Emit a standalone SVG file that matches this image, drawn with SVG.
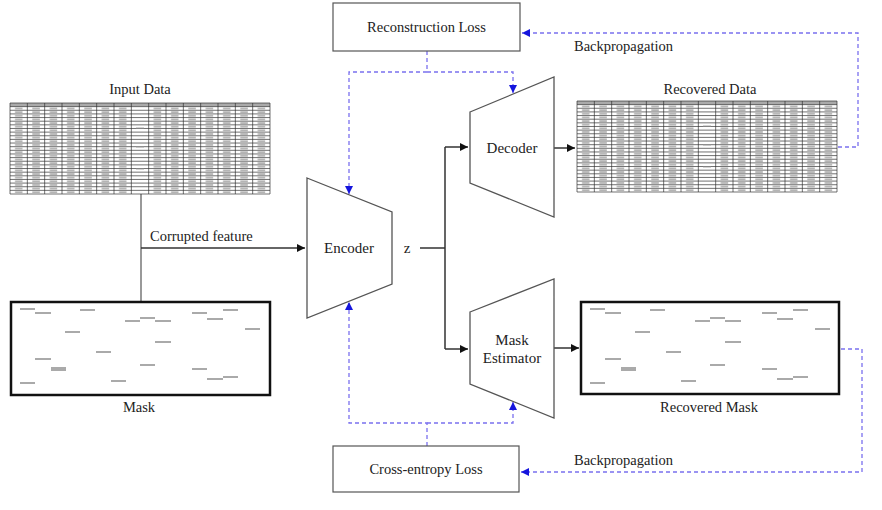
<svg xmlns="http://www.w3.org/2000/svg" width="882" height="510" viewBox="0 0 882 510">
<style>
text{font-family:"Liberation Serif","Times New Roman",serif;fill:#222;}
.lbl{font-size:14.5px;}
.big{font-size:15px;}
.box{fill:#fff;stroke:#555;stroke-width:1.2;}
.trap{fill:#fff;stroke:#555;stroke-width:1.3;}
.mbox{fill:#fff;stroke:#111;stroke-width:2.5;}
.solid{fill:none;stroke:#333;stroke-width:1.5;}
.gline{fill:none;stroke:#777;stroke-width:1.5;}
.dash{fill:none;stroke:#7a70ee;stroke-width:1.3;stroke-dasharray:4 3;}
.md{stroke:#aaa;stroke-width:2;}
.tg{stroke:#333;stroke-width:0.7;fill:none;}
</style>
<defs>
<marker id="ab" markerWidth="10" markerHeight="10" refX="9" refY="5" orient="auto" markerUnits="userSpaceOnUse">
<path d="M1,1 L9,5 L1,9 Z" fill="#111"/>
</marker>
<marker id="abl" markerWidth="10" markerHeight="10" refX="9" refY="5" orient="auto" markerUnits="userSpaceOnUse">
<path d="M1,1 L9,5 L1,9 Z" fill="#1515dd"/>
</marker>
<pattern id="cell" patternUnits="userSpaceOnUse" x="0" y="0" width="17.333" height="3.64">
<rect x="5" y="1.3" width="7.5" height="1.1" fill="#888"/>
</pattern>
<g id="table">
<rect x="0" y="0" width="260" height="91" fill="#fff"/>
<rect x="0" y="3.64" width="260" height="87.36" fill="url(#cell)"/>
<rect x="0" y="0" width="260" height="3.64" fill="#aaa"/>
<rect x="121.5" y="3.7" width="16.5" height="87" fill="#fff"/>
<path class="tg" d="M0,0H260M0,3.64H260M0,7.28H260M0,10.92H260M0,14.56H260M0,18.2H260M0,21.84H260M0,25.48H260M0,29.12H260M0,32.76H260M0,36.4H260M0,40.04H260M0,43.68H260M0,47.32H260M0,50.96H260M0,54.6H260M0,58.24H260M0,61.88H260M0,65.52H260M0,69.16H260M0,72.8H260M0,76.44H260M0,80.08H260M0,83.72H260M0,87.36H260M0,91H260"/>
<path class="tg" d="M0,0V91M17.33,0V91M34.67,0V91M52,0V91M69.33,0V91M86.67,0V91M104,0V91M121.33,0V91M138.67,0V91M156,0V91M173.33,0V91M190.67,0V91M208,0V91M225.33,0V91M242.67,0V91M260,0V91"/>
<path d="M126,44H134M126,66H134M126,25H134" stroke="#999" stroke-width="0.8"/>
</g>
<g id="maskpat">
<path class="md" d="M20,309H35M35,313H51M80,310H95M125,321H140M140,318H155M155,321H171M192,313H207M207,319H223M223,310H238M245,329H260M65,332H80M155,342H171M96,352H111M35,359H51M140,365H155M192,369H207M207,379H223M223,377H238M20,383H35M111,381H126"/>
<path d="M51,369H66" stroke="#aaa" stroke-width="4"/>
</g>
</defs>

<g id="connectors">
<path class="gline" d="M141,194V302"/>
<path class="solid" d="M141,248H305" marker-end="url(#ab)"/>
<path class="solid" d="M420,248H445M445,147V349"/>
<path class="solid" d="M445,147H468" marker-end="url(#ab)"/>
<path class="solid" d="M445,349H468" marker-end="url(#ab)"/>
<path class="solid" d="M554,148H575" marker-end="url(#ab)"/>
<path class="solid" d="M554,348H579" marker-end="url(#ab)"/>
<path class="dash" d="M838,147H858V33H522" marker-end="url(#abl)"/>
<path class="dash" d="M427,51V72H349V194" marker-end="url(#abl)"/>
<path class="dash" d="M427,72H513V93" marker-end="url(#abl)"/>
<path class="dash" d="M841,349H862V472H521" marker-end="url(#abl)"/>
<path class="dash" d="M427,446V423H349V302" marker-end="url(#abl)"/>
<path class="dash" d="M427,423H513V402" marker-end="url(#abl)"/>
<text class="lbl" x="574" y="51">Backpropagation</text>
<text class="lbl" x="574" y="465">Backpropagation</text>
<text class="lbl" x="150" y="241">Corrupted feature</text>
<text class="big" x="407" y="253" text-anchor="middle">z</text>
</g>

<g id="input-data">
<text class="lbl" x="140" y="94" text-anchor="middle">Input Data</text>
<use href="#table" x="10" y="103"/>
</g>

<g id="mask">
<rect class="mbox" x="11" y="302" width="259" height="93"/>
<use href="#maskpat"/>
<text class="lbl" x="139" y="412" text-anchor="middle">Mask</text>
</g>

<g id="reconstruction-loss">
<rect class="box" x="333" y="3" width="187" height="48"/>
<text class="lbl" x="426.5" y="32" text-anchor="middle">Reconstruction Loss</text>
</g>

<g id="encoder">
<polygon class="trap" points="307,178 392,212 392,284 307,318"/>
<text class="big" x="349" y="253" text-anchor="middle">Encoder</text>
</g>

<g id="decoder">
<polygon class="trap" points="470,112 554,77 554,217 470,183"/>
<text class="big" x="512" y="153" text-anchor="middle">Decoder</text>
</g>

<g id="mask-estimator">
<polygon class="trap" points="470,312 554,279 554,418 470,384"/>
<text class="big" x="512" y="345" text-anchor="middle">Mask</text>
<text class="big" x="512" y="363" text-anchor="middle">Estimator</text>
</g>

<g id="recovered-data">
<text class="lbl" x="710" y="94" text-anchor="middle">Recovered Data</text>
<use href="#table" x="577" y="101"/>
</g>

<g id="recovered-mask">
<rect class="mbox" x="581" y="302" width="258" height="92"/>
<use href="#maskpat" x="570"/>
<text class="lbl" x="709" y="412" text-anchor="middle">Recovered Mask</text>
</g>

<g id="cross-entropy-loss">
<rect class="box" x="333" y="446" width="186" height="46"/>
<text class="lbl" x="426" y="474" text-anchor="middle">Cross-entropy Loss</text>
</g>
</svg>
